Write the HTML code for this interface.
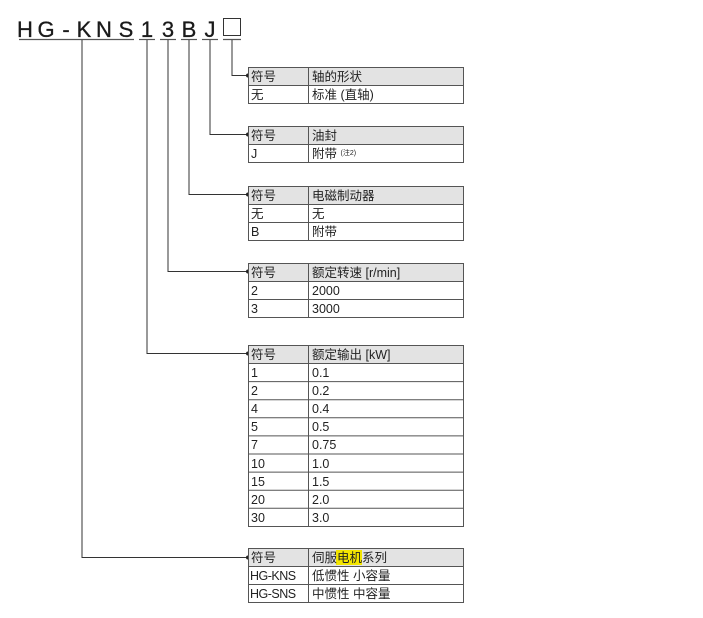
<!DOCTYPE html>
<html><head><meta charset="utf-8"><style>
html,body{margin:0;padding:0;background:#fff;}
svg{display:block;}
text{font-family:"Liberation Sans","Noto Sans CJK SC",sans-serif;fill:#222;}
.t{font-size:12.5px;}
.big{font-size:22px;fill:#1a1a1a;stroke:#1a1a1a;stroke-width:0.3;}
</style></head><body>
<svg width="703" height="618" viewBox="0 0 703 618" xmlns="http://www.w3.org/2000/svg">
<g text-anchor="middle">
<text x="25" y="37" class="big">H</text>
<text x="46" y="37" class="big">G</text>
<text x="66" y="37" class="big">-</text>
<text x="84" y="37" class="big">K</text>
<text x="104" y="37" class="big">N</text>
<text x="126" y="37" class="big">S</text>
<text x="147" y="37" class="big">1</text>
<text x="168" y="37" class="big">3</text>
<text x="189" y="37" class="big">B</text>
<text x="210" y="37" class="big">J</text>
</g>
<rect x="223.5" y="18.5" width="17" height="17" fill="none" stroke="#333" stroke-width="1"/>
<g stroke="#555" stroke-width="1.2" fill="none">
<line x1="19" y1="39.5" x2="134" y2="39.5"/>
<line x1="139" y1="39.5" x2="155" y2="39.5"/>
<line x1="160" y1="39.5" x2="176" y2="39.5"/>
<line x1="181" y1="39.5" x2="197" y2="39.5"/>
<line x1="202" y1="39.5" x2="218" y2="39.5"/>
<line x1="223" y1="39.5" x2="241" y2="39.5"/>
</g>
<g stroke="#333" stroke-width="1" fill="none">
<polyline points="232,40 232,75.5 248,75.5"/>
<polyline points="210,40 210,134.5 248,134.5"/>
<polyline points="189,40 189,194.5 248,194.5"/>
<polyline points="168,40 168,271.5 248,271.5"/>
<polyline points="147,40 147,353.5 248,353.5"/>
<polyline points="82,40 82,557.5 248,557.5"/>
</g>
<g fill="#222">
<circle cx="248" cy="75.5" r="2"/><circle cx="248" cy="134.5" r="2"/><circle cx="248" cy="194.5" r="2"/>
<circle cx="248" cy="271.5" r="2"/><circle cx="248" cy="353.5" r="2"/><circle cx="248" cy="557.5" r="2"/>
</g>
<g stroke="#555" stroke-width="1" fill="none">
<rect x="248.5" y="67.5" width="215" height="18" fill="#e3e3e3"/>
<rect x="248.5" y="85.5" width="215" height="18" fill="#fff"/>
<line x1="308.5" y1="67" x2="308.5" y2="103"/>
<rect x="248.5" y="126.5" width="215" height="18" fill="#e3e3e3"/>
<rect x="248.5" y="144.5" width="215" height="18" fill="#fff"/>
<line x1="308.5" y1="126" x2="308.5" y2="162"/>
<rect x="248.5" y="186.5" width="215" height="18" fill="#e3e3e3"/>
<rect x="248.5" y="204.5" width="215" height="18" fill="#fff"/>
<rect x="248.5" y="222.5" width="215" height="18" fill="#fff"/>
<line x1="308.5" y1="186" x2="308.5" y2="240"/>
<rect x="248.5" y="263.5" width="215" height="18" fill="#e3e3e3"/>
<rect x="248.5" y="281.5" width="215" height="18" fill="#fff"/>
<rect x="248.5" y="299.5" width="215" height="18" fill="#fff"/>
<line x1="308.5" y1="263" x2="308.5" y2="317"/>
<rect x="248.5" y="345.5" width="215" height="18" fill="#e3e3e3"/>
<rect x="248.5" y="363.5" width="215" height="163" fill="#fff"/>
<line x1="248.5" y1="381.6" x2="463.5" y2="381.6"/>
<line x1="248.5" y1="399.7" x2="463.5" y2="399.7"/>
<line x1="248.5" y1="417.8" x2="463.5" y2="417.8"/>
<line x1="248.5" y1="435.9" x2="463.5" y2="435.9"/>
<line x1="248.5" y1="454" x2="463.5" y2="454"/>
<line x1="248.5" y1="472.1" x2="463.5" y2="472.1"/>
<line x1="248.5" y1="490.2" x2="463.5" y2="490.2"/>
<line x1="248.5" y1="508.3" x2="463.5" y2="508.3"/>
<line x1="308.5" y1="345" x2="308.5" y2="526.5"/>
<rect x="248.5" y="548.5" width="215" height="18" fill="#e3e3e3"/>
<rect x="248.5" y="566.5" width="215" height="18" fill="#fff"/>
<rect x="248.5" y="584.5" width="215" height="18" fill="#fff"/>
<line x1="308.5" y1="548" x2="308.5" y2="602"/>
</g>
<g>
<text x="251" y="81" class="t">符号</text><text x="312" y="81" class="t">轴的形状</text>
<text x="251" y="99" class="t">无</text><text x="312" y="99" class="t">标准 (直轴)</text>
<text x="251" y="140" class="t">符号</text><text x="312" y="140" class="t">油封</text>
<text x="251" y="158" class="t">J</text><text x="312" y="158" class="t">附带 <tspan font-size="7" dy="-3">(注2)</tspan></text>
<text x="251" y="200" class="t">符号</text><text x="312" y="200" class="t">电磁制动器</text>
<text x="251" y="218" class="t">无</text><text x="312" y="218" class="t">无</text>
<text x="251" y="236" class="t">B</text><text x="312" y="236" class="t">附带</text>
<text x="251" y="277" class="t">符号</text><text x="312" y="277" class="t">额定转速 [r/min]</text>
<text x="251" y="295" class="t">2</text><text x="312" y="295" class="t">2000</text>
<text x="251" y="313" class="t">3</text><text x="312" y="313" class="t">3000</text>
<text x="251" y="359" class="t">符号</text><text x="312" y="359" class="t">额定输出 [kW]</text>
<text x="251" y="377" class="t">1</text><text x="312" y="377" class="t">0.1</text>
<text x="251" y="395" class="t">2</text><text x="312" y="395" class="t">0.2</text>
<text x="251" y="413" class="t">4</text><text x="312" y="413" class="t">0.4</text>
<text x="251" y="431" class="t">5</text><text x="312" y="431" class="t">0.5</text>
<text x="251" y="449" class="t">7</text><text x="312" y="449" class="t">0.75</text>
<text x="251" y="468" class="t">10</text><text x="312" y="468" class="t">1.0</text>
<text x="251" y="486" class="t">15</text><text x="312" y="486" class="t">1.5</text>
<text x="251" y="504" class="t">20</text><text x="312" y="504" class="t">2.0</text>
<text x="251" y="522" class="t">30</text><text x="312" y="522" class="t">3.0</text>
<rect x="336" y="550" width="26" height="15" fill="#f3e500"/>
<text x="251" y="562" class="t">符号</text><text x="312" y="562" class="t">伺服电机系列</text>
<text x="250" y="580" class="t" letter-spacing="-0.5">HG-KNS</text><text x="312" y="580" class="t">低惯性 小容量</text>
<text x="250" y="598" class="t" letter-spacing="-0.5">HG-SNS</text><text x="312" y="598" class="t">中惯性 中容量</text>
</g>
</svg>
</body></html>
